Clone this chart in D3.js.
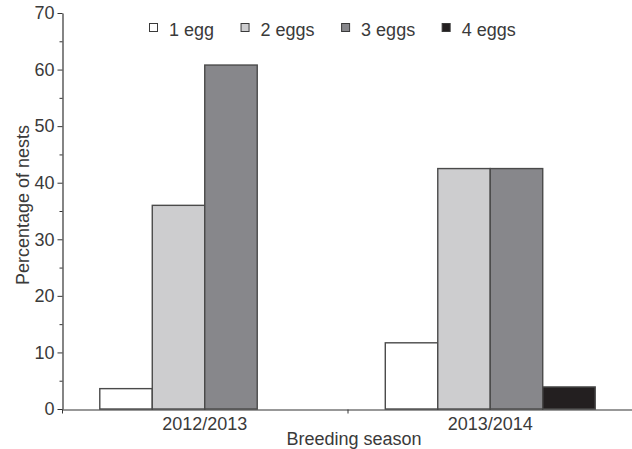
<!DOCTYPE html>
<html>
<head>
<meta charset="utf-8">
<script src="https://cdnjs.cloudflare.com/ajax/libs/d3/7.8.5/d3.min.js"></script>
<style>
  body { margin: 0; background: #fff; }
  text { font-family: "Liberation Sans", Arial, sans-serif; fill: #3a3a3a; }
</style>
</head>
<body>
<div id="container"></div>
<script>
// data
const seasons = ["2012/2013", "2013/2014"];
const eggGroups = ["1 egg", "2 eggs", "3 eggs", "4 eggs"];
const season1 = [3.6, 36.0, 60.8, 0];
const season2 = [11.7, 42.5, 42.5, 3.9];
const yTicks = [0, 10, 20, 30, 40, 50, 60, 70];
const yMinorTicks = [5, 15, 25, 35, 45, 55, 65];
const fills = ["#ffffff", "#cdcdcf", "#87878b", "#231f20"];

const rows = seasons.map((s, i) => ({
    season: s,
    values: (i === 0 ? season1 : season2).map((v, j) => ({ key: eggGroups[j], value: v }))
}));

let w = 632;
let h = 449;

let viz = d3.select("#container")
    .append("svg")
    .attr("width", w)
    .attr("height", h);

// scales
let x0 = d3.scaleBand()
    .domain(seasons)
    .range([62, 633])
    .paddingInner(0)
    .paddingOuter(0);

let x1 = d3.scaleBand()
    .domain(eggGroups)
    .range([0, x0.bandwidth()])
    .paddingInner(0)
    .paddingOuter(0.72);

let yScale = d3.scaleLinear().domain([0, 70]).range([409, 13]);

let color = d3.scaleOrdinal().domain(eggGroups).range(fills);

// bars
let groups = viz.append("g").classed("graphGroup", true)
    .selectAll(".season")
    .data(rows)
    .join("g")
    .classed("season", true)
    .attr("transform", d => `translate(${x0(d.season)},0)`);

groups.selectAll("rect")
    .data(d => d.values.filter(v => v.value > 0))
    .join("rect")
    .attr("x", d => x1(d.key))
    .attr("width", x1.bandwidth())
    .attr("y", d => yScale(d.value))
    .attr("height", d => yScale(0) - yScale(d.value))
    .attr("fill", d => color(d.key))
    .attr("stroke", "#4a4a4a")
    .attr("stroke-width", 1.4);

// y axis
let yAxisGroup = viz.append("g")
    .attr("transform", "translate(62.5,0)")
    .call(d3.axisLeft(yScale).tickValues(yTicks).tickSize(5).tickSizeOuter(0).tickPadding(3));
yAxisGroup.selectAll(".minor")
    .data(yMinorTicks)
    .join("line")
    .classed("minor", true)
    .attr("x1", -3)
    .attr("x2", 0)
    .attr("y1", d => yScale(d) + 0.5)
    .attr("y2", d => yScale(d) + 0.5)
    .attr("stroke", "#333");

// x axis
let xAxisGroup = viz.append("g")
    .attr("transform", "translate(0,409.5)")
    .call(d3.axisBottom(x0).tickSize(0).tickSizeOuter(0).tickPadding(8));
xAxisGroup.selectAll(".boundary")
    .data(seasons)
    .join("line")
    .classed("boundary", true)
    .attr("x1", d => x0(d) + 0.5)
    .attr("x2", d => x0(d) + 0.5)
    .attr("y1", 0)
    .attr("y2", 4)
    .attr("stroke", "#333");

viz.selectAll(".domain").attr("stroke", "#333").attr("stroke-width", 1.2);
viz.selectAll(".tick line").attr("stroke", "#333");
viz.selectAll(".tick text").attr("font-size", 18).attr("fill", "#3a3a3a")
    .style("font-family", "'Liberation Sans', Arial, sans-serif");

// axis titles
viz.append("text")
    .attr("x", 354)
    .attr("y", 445)
    .attr("text-anchor", "middle")
    .attr("font-size", 18)
    .text("Breeding season");

viz.append("text")
    .attr("transform", "translate(29,205) rotate(-90)")
    .attr("text-anchor", "middle")
    .attr("font-size", 18)
    .text("Percentage of nests");

// legend
let legend = viz.append("g").attr("transform", "translate(149,0)");
let lx = 0;
eggGroups.forEach((k, i) => {
    legend.append("rect")
        .attr("x", lx + 0.5)
        .attr("y", 23.5)
        .attr("width", 8)
        .attr("height", 8)
        .attr("fill", color(k))
        .attr("stroke", "#3a3a3a")
        .attr("stroke-width", 1);
    let t = legend.append("text")
        .attr("x", lx + 20)
        .attr("y", 36)
        .attr("font-size", 18)
        .text(k);
    lx += 20 + t.node().getComputedTextLength() + 26.5;
});
</script>
</body>
</html>
